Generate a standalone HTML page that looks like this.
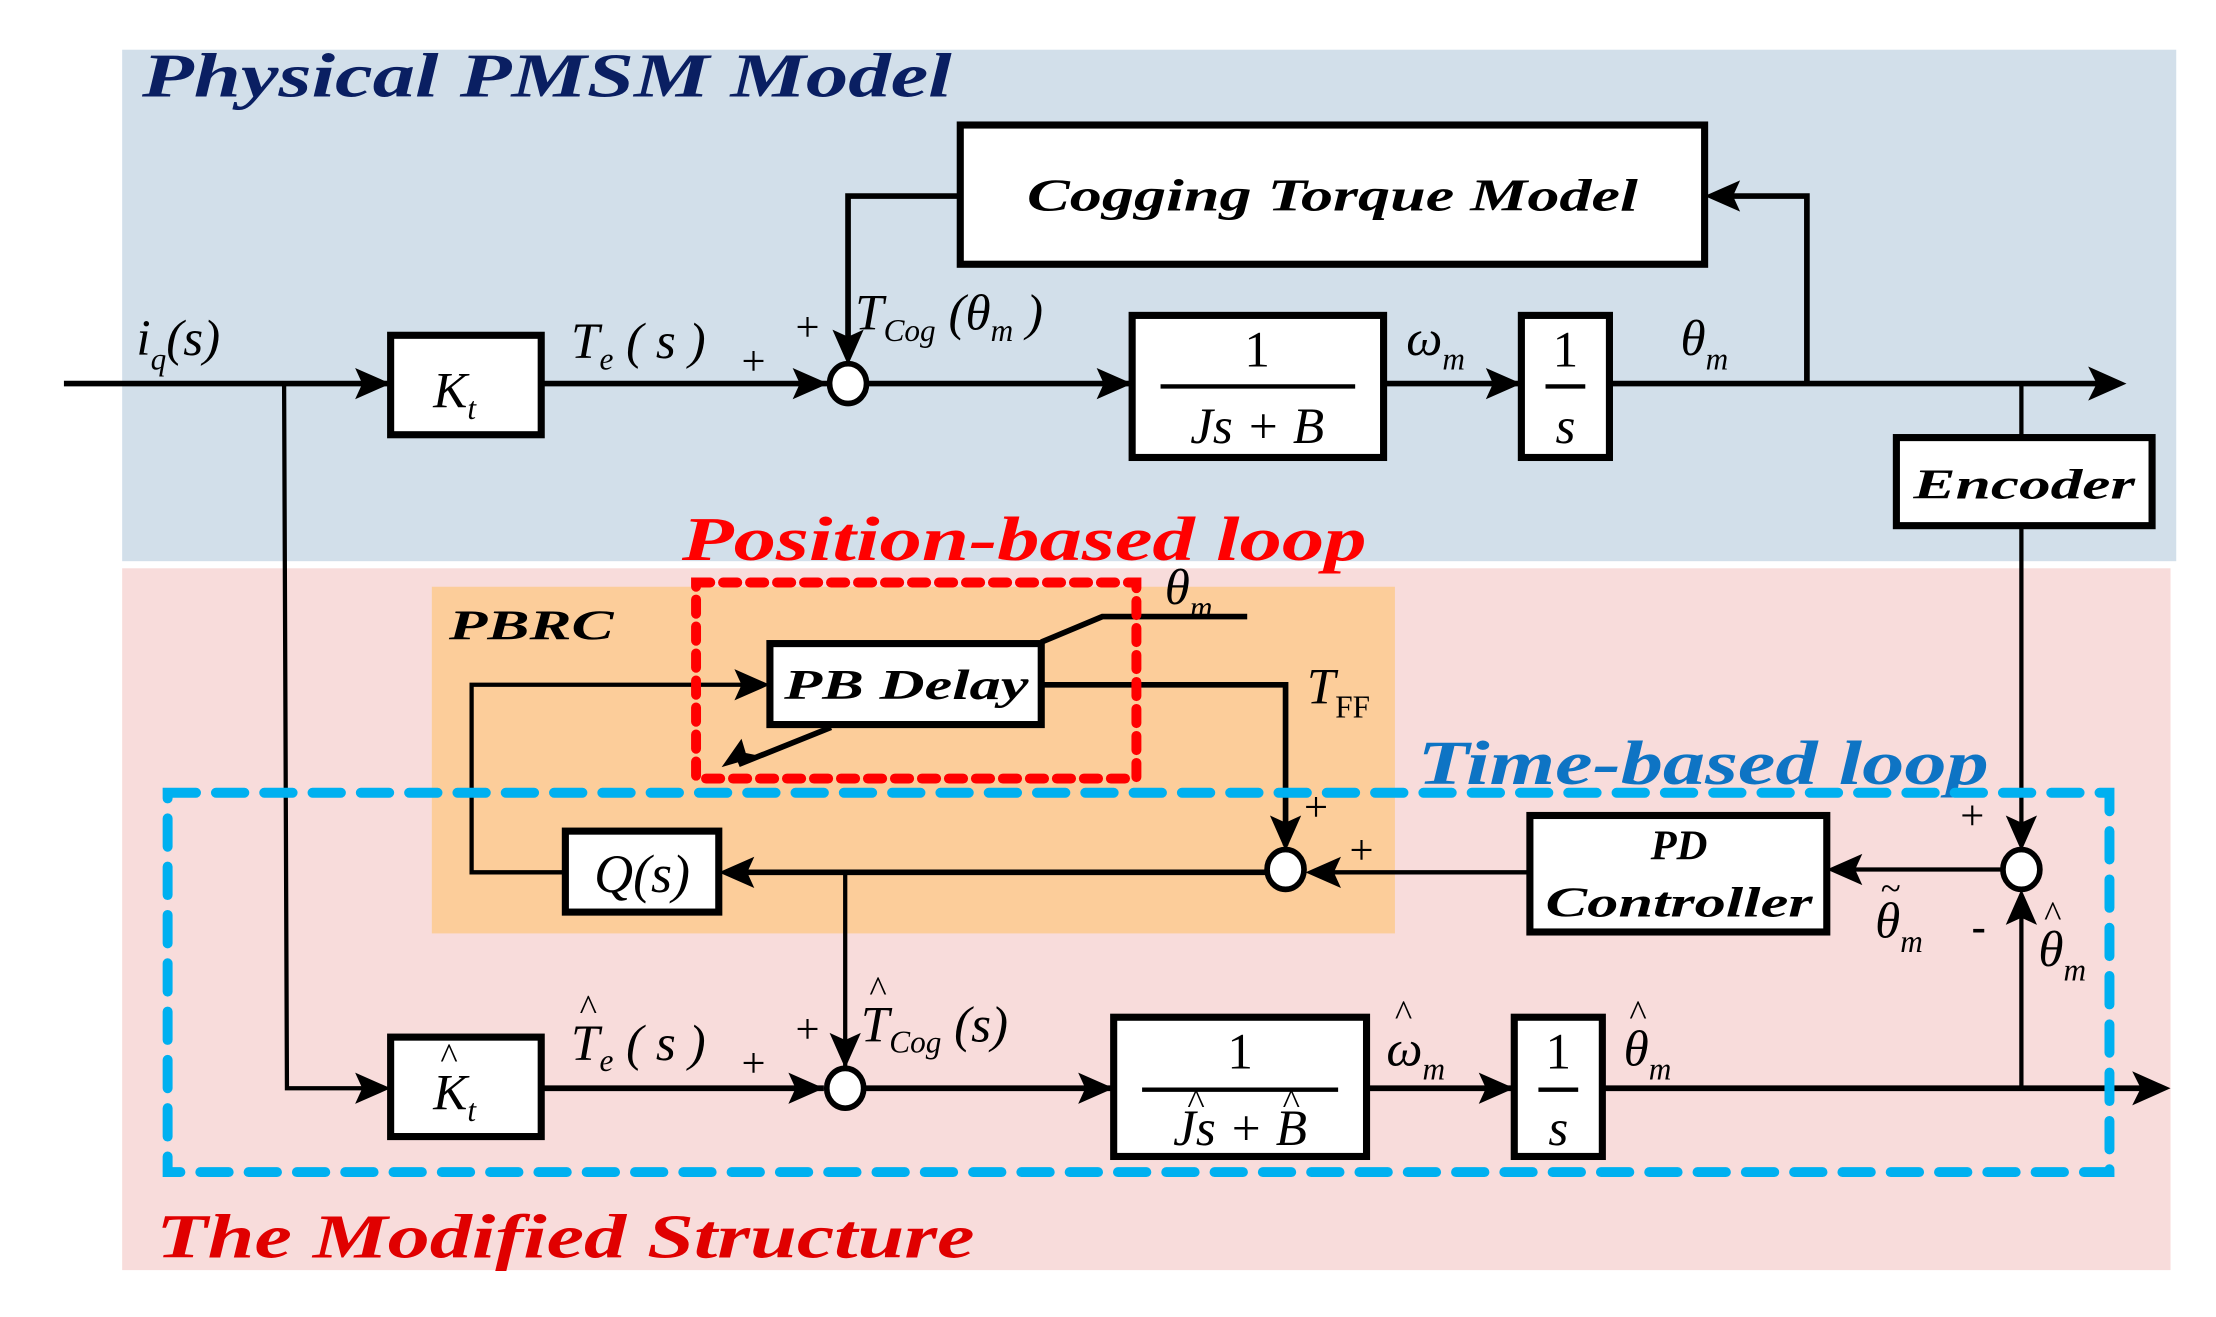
<!DOCTYPE html>
<html><head><meta charset="utf-8"><style>
html,body{margin:0;padding:0;background:#fff}
svg{display:block}
.t{font-family:"Liberation Serif","DejaVu Serif",serif;font-style:italic}
.b{font-weight:bold}
</style></head><body>
<svg width="2216" height="1317" viewBox="0 0 1560 927" preserveAspectRatio="none" xmlns="http://www.w3.org/2000/svg">
<rect x="86" y="35" width="1446" height="360" fill="#d2dfea"/>
<rect x="86" y="400" width="1442" height="494" fill="#f8dcdb"/>
<rect x="304" y="413" width="678" height="244" fill="#fccd9a"/>
<text x="100" y="68" class="t b" font-size="44" fill="#0a1f62" textLength="570" lengthAdjust="spacingAndGlyphs">Physical PMSM Model</text>
<text x="480" y="394" class="t b" font-size="44" fill="#ff0000" textLength="482" lengthAdjust="spacingAndGlyphs">Position-based loop</text>
<text x="998" y="552" class="t b" font-size="44" fill="#0e74c4" textLength="402" lengthAdjust="spacingAndGlyphs">Time-based loop</text>
<text x="110" y="885" class="t b" font-size="44" fill="#e00000" textLength="576" lengthAdjust="spacingAndGlyphs">The Modified Structure</text>
<text x="316" y="450" class="t b" font-size="30" textLength="116" lengthAdjust="spacingAndGlyphs">PBRC</text>

<g stroke="#000" stroke-width="4" fill="none">
<line x1="45" y1="270" x2="275" y2="270"/>
<line x1="381" y1="270" x2="583" y2="270"/>
<line x1="611" y1="270" x2="797" y2="270"/>
<line x1="974" y1="270" x2="1071" y2="270"/>
<line x1="1133" y1="270" x2="1480" y2="270"/>
<polyline points="1272,270 1272,138 1210,138"/>
<polyline points="676,138 597,138 597,250"/>
<line x1="1423" y1="270" x2="1423" y2="308" stroke-width="3"/>
<line x1="1423" y1="370" x2="1423" y2="590" stroke-width="3"/>
<polyline points="200,270 202,766 270,766" stroke-width="3"/>
<line x1="381" y1="766" x2="580" y2="766"/>
<line x1="609" y1="766" x2="784" y2="766"/>
<line x1="962" y1="766" x2="1066" y2="766"/>
<line x1="1128" y1="766" x2="1512" y2="766"/>
<line x1="1423" y1="766" x2="1423" y2="640" stroke-width="3"/>
<polyline points="733,482 905,482 905,595"/>
<polyline points="398,614 332,614 332,482 530,482" stroke-width="3"/>
<line x1="892" y1="614" x2="516" y2="614"/>
<line x1="595" y1="614" x2="595" y2="752" stroke-width="3"/>
<line x1="1077" y1="614" x2="930" y2="614" stroke-width="3"/>
<line x1="1409" y1="612" x2="1300" y2="612" stroke-width="3"/>
<polyline points="733,452 776,434 878,434"/>
<line x1="585" y1="512" x2="520" y2="538"/>
</g>
<g fill="#000">
<polygon points="275,270 250,259 255,270 250,281"/>
<polygon points="583,270 558,259 563,270 558,281"/>
<polygon points="797,270 772,259 777,270 772,281"/>
<polygon points="1071,270 1046,259 1051,270 1046,281"/>
<polygon points="1497,270 1470,258 1476,270 1470,282"/>
<polygon points="1200,138 1225,127 1220,138 1225,149"/>
<polygon points="597,257 586,232 597,237 608,232"/>
<polygon points="275,766 250,755 255,766 250,777"/>
<polygon points="580,766 555,755 560,766 555,777"/>
<polygon points="784,766 759,755 764,766 759,777"/>
<polygon points="1066,766 1041,755 1046,766 1041,777"/>
<polygon points="1528,766 1501,754 1507,766 1501,778"/>
<polygon points="595,752 584,727 595,732 606,727"/>
<polygon points="542,482 517,471 522,482 517,493"/>
<polygon points="506,614 531,603 526,614 531,625"/>
<polygon points="905,599 894,574 905,579 916,574"/>
<polygon points="919,614 944,603 939,614 944,625"/>
<polygon points="1286,612 1311,601 1306,612 1311,623"/>
<polygon points="1423,599 1412,574 1423,579 1434,574"/>
<polygon points="1423,626 1412,651 1423,646 1434,651"/>
<polygon points="508,540 522,520 525,530 535,532"/>
</g>
<g fill="#fff" stroke="#000" stroke-width="4">
<ellipse cx="597" cy="270" rx="13" ry="14"/>
<ellipse cx="595" cy="766" rx="13" ry="14"/>
<ellipse cx="905" cy="612" rx="13" ry="14"/>
<ellipse cx="1423" cy="612" rx="13" ry="14"/>
</g>
<g fill="#fff" stroke="#000" stroke-width="5">
<rect x="676" y="88" width="524" height="98"/>
<rect x="275" y="236" width="106" height="70"/>
<rect x="797" y="222" width="177" height="100"/>
<rect x="1071" y="222" width="62" height="100"/>
<rect x="1335" y="308" width="180" height="62"/>
<rect x="275" y="730" width="106" height="70"/>
<rect x="784" y="716" width="178" height="98"/>
<rect x="1066" y="716" width="62" height="98"/>
<rect x="542" y="453" width="191" height="57"/>
<rect x="398" y="585" width="108" height="57"/>
<rect x="1077" y="574" width="209" height="82"/>
</g>
<rect x="490" y="410" width="310" height="138" fill="none" stroke="#ff0000" stroke-width="7" stroke-dasharray="10 9" stroke-linecap="round"/>
<rect x="118" y="558" width="1367" height="267" fill="none" stroke="#00b0f0" stroke-width="7" stroke-dasharray="20 14" stroke-linecap="round"/>
<g stroke="#000" stroke-width="3">
<line x1="817" y1="272" x2="954" y2="272"/>
<line x1="1088" y1="272" x2="1116" y2="272"/>
<line x1="804" y1="767" x2="942" y2="767"/>
<line x1="1083" y1="767" x2="1111" y2="767"/>
</g>
<g class="t" text-anchor="middle">
<text x="938" y="148" font-size="32" class="t b" textLength="430" lengthAdjust="spacingAndGlyphs">Cogging Torque Model</text>
<text x="1425" y="351" font-size="30" class="t b" textLength="156" lengthAdjust="spacingAndGlyphs">Encoder</text>
<text x="638" y="492" font-size="30" class="t b" textLength="172" lengthAdjust="spacingAndGlyphs">PB Delay</text>
<text x="1182" y="605" font-size="30" class="t b">PD</text>
<text x="1182" y="645" font-size="30" class="t b" textLength="188" lengthAdjust="spacingAndGlyphs">Controller</text>
<text x="452" y="628" font-size="38">Q(s)</text>
<text x="885" y="258" font-size="36" font-style="normal">1</text>
<text x="885" y="312" font-size="36">Js + B</text>
<text x="1102" y="258" font-size="36" font-style="normal">1</text>
<text x="1102" y="312" font-size="36">s</text>
<text x="873" y="752" font-size="36" font-style="normal">1</text>
<text x="873" y="806" font-size="36">Js + B</text>
<text x="842" y="784" font-size="26" font-style="normal">^</text>
<text x="909" y="784" font-size="26" font-style="normal">^</text>
<text x="1097" y="752" font-size="36" font-style="normal">1</text>
<text x="1097" y="806" font-size="36">s</text>
</g>
<g class="t" font-size="36">
<text x="305" y="287">K<tspan font-size="22" dy="8">t</tspan></text>
<text x="305" y="781">K<tspan font-size="22" dy="8">t</tspan></text>
<text x="96" y="250">i<tspan font-size="22" dy="10">q</tspan><tspan dy="-10">(s)</tspan></text>
<text x="402" y="252">T<tspan font-size="22" dy="8">e</tspan><tspan dy="-8"> ( s )</tspan></text>
<text x="602" y="232">T<tspan font-size="22" dy="8">Cog</tspan><tspan dy="-8"> (θ</tspan><tspan font-size="22" dy="8">m</tspan><tspan dy="-8"> )</tspan></text>
<text x="990" y="250">ω<tspan font-size="22" dy="10">m</tspan></text>
<text x="1183" y="250">θ<tspan font-size="22" dy="10">m</tspan></text>
<text x="820" y="425">θ<tspan font-size="22" dy="10">m</tspan></text>
<text x="920" y="495">T<tspan font-size="22" font-style="normal" dy="10">FF</tspan></text>
<text x="402" y="746">T<tspan font-size="22" dy="8">e</tspan><tspan dy="-8"> ( s )</tspan></text>
<text x="606" y="733">T<tspan font-size="22" dy="8">Cog</tspan><tspan dy="-8"> (s)</tspan></text>
<text x="976" y="750">ω<tspan font-size="22" dy="10">m</tspan></text>
<text x="1143" y="750">θ<tspan font-size="22" dy="10">m</tspan></text>
<text x="1320" y="660">θ<tspan font-size="22" dy="10">m</tspan></text>
<text x="1435" y="680">θ<tspan font-size="22" dy="10">m</tspan></text>
</g>
<g font-family="Liberation Serif,serif" font-size="26">
<text x="310" y="752">^</text>
<text x="408" y="718">^</text>
<text x="612" y="705">^</text>
<text x="982" y="722">^</text>
<text x="1147" y="722">^</text>
<text x="1439" y="652">^</text>
<text x="1324" y="634">~</text>
</g>
<g font-family="Liberation Serif,serif" font-size="30">
<text x="522" y="264">+</text>
<text x="560" y="240">+</text>
<text x="522" y="758">+</text>
<text x="560" y="734">+</text>
<text x="918" y="578">+</text>
<text x="950" y="608">+</text>
<text x="1380" y="584">+</text>
<text x="1388" y="662" font-weight="bold">-</text>
</g>
</svg>
</body></html>
